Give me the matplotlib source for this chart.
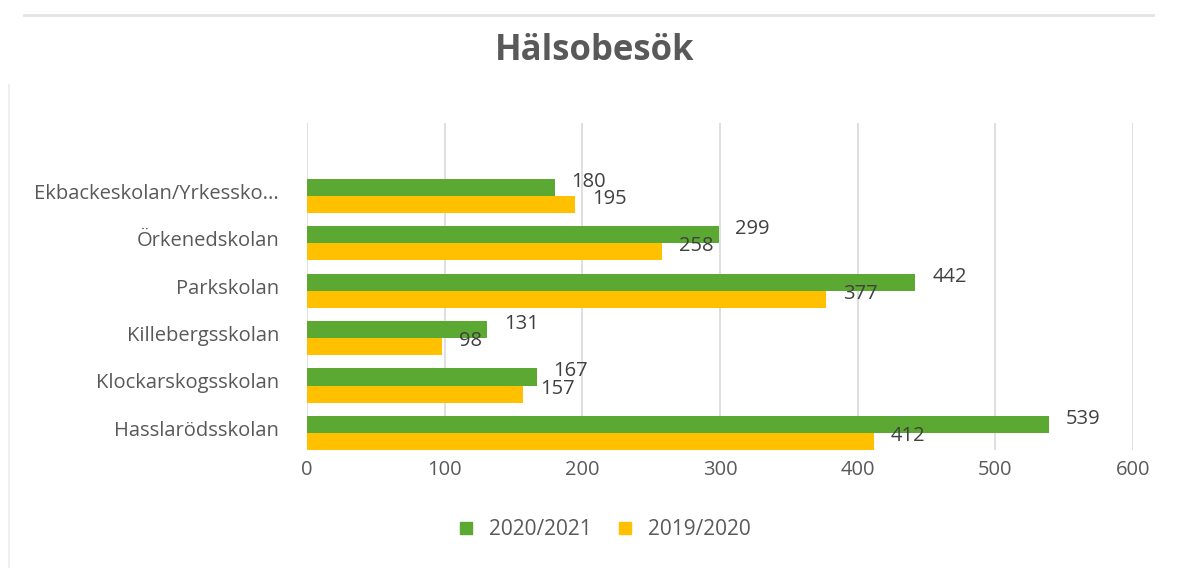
import numpy as np
import matplotlib.pyplot as plt
from matplotlib.lines import Line2D

schools = ['Hasslarödsskolan', 'Klockarskogsskolan', 'Killebergsskolan',
           'Parkskolan', 'Örkenedskolan', 'Ekbackeskolan/Yrkessko...']
visits_2021 = [539, 167, 131, 442, 299, 180]
visits_2020 = [412, 157, 98, 377, 258, 195]
series_names = ['2020/2021', '2019/2020']

GREEN = '#5BA833'
YELLOW = '#FFC000'
TEXT = '#595959'

plt.rcParams['font.family'] = ['Open Sans', 'DejaVu Sans']


def add_labels(ax, bars, values):
    for bar, v in zip(bars, values):
        ax.annotate(str(v), (bar.get_width(), bar.get_y() + bar.get_height() / 2),
                    xytext=(12, 4), textcoords='offset points',
                    ha='left', va='center', fontsize=14.5, color='#404040')


def main():
    fig = plt.figure(figsize=(11.77, 5.68), dpi=100)
    ax = fig.add_axes([0.2608, 0.2077, 0.7018, 0.5758])

    y = np.arange(len(schools))
    h = 0.36
    b1 = ax.barh(y + h / 2, visits_2021, height=h, color=GREEN, label=series_names[0], zorder=3)
    b2 = ax.barh(y - h / 2, visits_2020, height=h, color=YELLOW, label=series_names[1], zorder=3)
    add_labels(ax, b1, visits_2021)
    add_labels(ax, b2, visits_2020)

    ax.set_xlim(0, 600)
    ax.set_ylim(-0.36, 6.54)
    ax.set_xticks(range(0, 601, 100))
    ax.set_yticks(y + 0.1)
    ax.set_yticklabels(schools)
    ax.tick_params(axis='both', length=0, labelsize=14.5, labelcolor=TEXT)
    ax.tick_params(axis='y', pad=20)
    ax.tick_params(axis='x', pad=7)
    ax.grid(axis='x', color='#d9d9d9', linewidth=1.2, zorder=0)
    for s in ax.spines.values():
        s.set_visible(False)

    fig.text(0.505, 0.91, 'Hälsobesök', ha='center', va='center',
             fontsize=25, fontweight='bold', color=TEXT)

    handles = [Line2D([], [], marker='s', linestyle='none', markersize=8, color=GREEN),
               Line2D([], [], marker='s', linestyle='none', markersize=8, color=YELLOW)]
    fig.legend(handles, series_names, loc='center', bbox_to_anchor=(0.508, 0.068),
               ncol=2, frameon=False, fontsize=15, labelcolor=TEXT,
               handletextpad=0.1, columnspacing=0.6)

    # faint frame lines of the original chart box
    fig.add_artist(Line2D([0.02, 0.98], [0.973, 0.973], color='#e3e3e3', linewidth=2,
                          transform=fig.transFigure))
    fig.add_artist(Line2D([0.008, 0.008], [0.0, 0.85], color='#efefef', linewidth=1.5,
                          transform=fig.transFigure))

    fig.savefig('out.png', dpi=100)


if __name__ == '__main__':
    main()
